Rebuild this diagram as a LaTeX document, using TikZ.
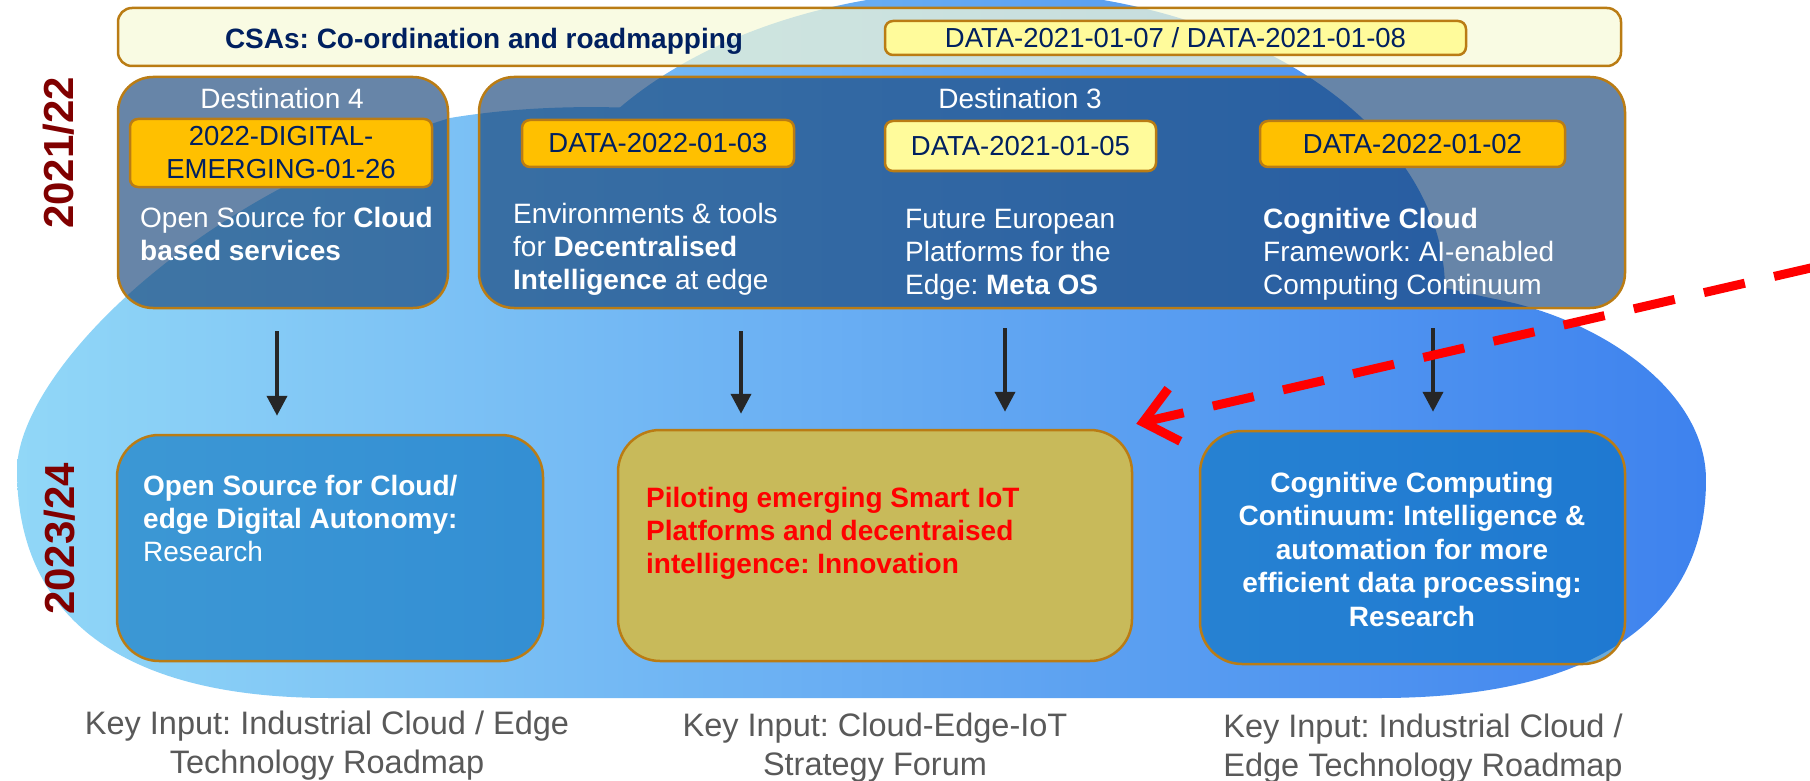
\documentclass[tikz,border=0pt]{standalone}
\usepackage{fontspec}
\setmainfont{Liberation Sans}
\usetikzlibrary{arrows.meta}
\frenchspacing

\definecolor{edgebrown}{RGB}{186,124,20}
\definecolor{navy}{RGB}{0,32,96}
\definecolor{codeorange}{RGB}{255,192,0}
\definecolor{codeyellow}{RGB}{255,251,155}
\definecolor{csafill}{RGB}{247,250,215}
\definecolor{topblue}{RGB}{22,68,121}
\definecolor{lowblue}{RGB}{7,113,190}
\definecolor{olive}{RGB}{200,186,90}
\definecolor{darkred}{RGB}{128,0,0}
\definecolor{keygray}{RGB}{89,89,89}
\definecolor{arrowgray}{RGB}{38,38,38}
\definecolor{bgleft}{RGB}{145,215,247}
\definecolor{bgmid}{RGB}{104,173,243}
\definecolor{bgright}{RGB}{62,130,238}

\newcommand{\fsz}[2]{\fontsize{#1}{#2}\selectfont}

\begin{document}
\begin{tikzpicture}[x=1pt, y=-1pt,
    bgfill/.style={path picture={\shade[left color=bgleft, middle color=bgmid, right color=bgright] (17,-20) rectangle (1706,781);}},
    boxedge/.style={draw=edgebrown, line width=2.5pt, inner sep=0pt},
    csabar/.style={boxedge, rounded corners=14pt, fill=csafill, fill opacity=0.7},
    topbox/.style={boxedge, rounded corners=35pt, fill=topblue, fill opacity=0.65},
    lowbox/.style={boxedge, rounded corners=42pt},
    codebox/.style={boxedge, rounded corners=8pt, fill=codeorange, text=navy, align=center, font=\fsz{27.5}{33}},
    boxtext/.style={text=white, align=left, anchor=west, inner sep=0pt, font=\fsz{28}{33}},
    keyin/.style={text=keygray, align=center, inner sep=0pt, font=\fsz{32.5}{39}},
    yearlbl/.style={text=darkred, rotate=90, inner sep=0pt, font=\fsz{42}{50}\bfseries},
    arr/.style={-{Triangle[length=20pt,width=20pt]}, line width=4pt, draw=arrowgray},
    redarr/.style={-{Straight Barb[length=32pt,width=54pt]}, line width=9pt, draw=red, dash pattern=on 42pt off 30pt}]
  \useasboundingbox (0,0) rectangle (1810,781);

  % background cloud
  \path[bgfill] (17,470) .. controls (17,380) and (180,200) .. (450,118)
    .. controls (800,60) and (1250,250) .. (1500,300)
    .. controls (1600,320) and (1706,390) .. (1706,480)
    .. controls (1706,600) and (1620,698) .. (1380,698)
    -- (330,698) .. controls (100,698) and (17,600) .. (17,470) -- cycle;
  \path[bgfill] (985,290) ellipse [x radius=460, y radius=300];

  % years
  \node[yearlbl] (6) at (59,153) {2021/22};
  \node[yearlbl] (7) at (60,539) {2023/24};

  % CSAs
  \node[csabar, minimum width=1503pt, minimum height=58pt] (0) at (869.5,37) {};
  \node[font=\fsz{28}{33}\bfseries, text=navy, inner sep=0pt] (01) at (484,41) {CSAs: Co-ordination and roadmapping};
  \node[codebox, fill=codeyellow, minimum width=581pt, minimum height=34pt] (02) at (1175.5,38) {DATA-2021-01-07 / DATA-2021-01-08};

  % 2021/22
  \node[topbox, minimum width=330pt, minimum height=231pt] (1) at (283,192.5) {};
  \node[boxtext, anchor=center] (11) at (282,98) {Destination 4};
  \node[codebox, minimum width=302pt, minimum height=68pt] (12) at (281,153) {2022-DIGITAL-\\EMERGING-01-26};
  \node[boxtext] (13) at (140,233.5) {Open Source for \textbf{Cloud}\\\textbf{based services}};

  \node[topbox, minimum width=1146pt, minimum height=231pt] (2) at (1052,192.5) {};
  \node[boxtext, anchor=center] (21) at (1020,98) {Destination 3};
  \node[codebox, minimum width=272pt, minimum height=47pt] (22) at (658,143.5) {DATA-2022-01-03};
  \node[codebox, fill=codeyellow, minimum width=271pt, minimum height=50pt] (23) at (1020.5,146) {DATA-2021-01-05};
  \node[codebox, minimum width=305pt, minimum height=46pt] (24) at (1412.5,144) {DATA-2022-01-02};
  \node[boxtext] (25) at (513,249) {Environments \& tools\\for \textbf{Decentralised}\\\textbf{Intelligence} at edge};
  \node[boxtext] (26) at (905,255) {Future European\\Platforms for the\\Edge: \textbf{Meta OS}};
  \node[boxtext] (27) at (1263,254.5) {\textbf{Cognitive Cloud}\\Framework: AI-enabled\\Computing Continuum};

  % 2023/24
  \node[lowbox, fill=lowblue, fill opacity=0.6, minimum width=426pt, minimum height=226pt] (3) at (330,548) {};
  \node[lowbox, fill=olive, minimum width=514pt, minimum height=231pt] (4) at (875,545.5) {};
  \node[lowbox, fill=lowblue, fill opacity=0.6, minimum width=425pt, minimum height=233pt] (5) at (1412.5,547.5) {};
  \node[boxtext] (31) at (143,518.5) {\textbf{Open Source for Cloud/}\\\textbf{edge Digital Autonomy:}\\Research};
  \node[boxtext, text=red, font=\fsz{28}{33}\bfseries] (41) at (646,533) {Piloting emerging Smart IoT\\Platforms and decentraised\\intelligence: Innovation};
  \node[boxtext, anchor=center, align=center, font=\fsz{28}{33.5}\bfseries] (51) at (1412,549) {Cognitive Computing\\Continuum: Intelligence \&\\automation for more\\efficient data processing:\\Research};

  \node[keyin] (32) at (327,746) {Key Input: Industrial Cloud / Edge\\Technology Roadmap};
  \node[keyin] (42) at (875,747.5) {Key Input: Cloud-Edge-IoT\\Strategy Forum};
  \node[keyin] (52) at (1423,749) {Key Input: Industrial Cloud /\\Edge Technology Roadmap};

  \draw[arr] ([shift={(-6,22)}]1.south) -- ([shift={(-53,-18)}]3.north);
  \draw[arr] ([shift={(-311,22)}]2.south) -- ([shift={(-134,-15)}]4.north);
  \draw[arr] ([shift={(-47,19)}]2.south) -- ([shift={(130,-17)}]4.north);
  \draw[arr] ([shift={(381,19)}]2.south) -- ([shift={(20.5,-18)}]5.north);

  \coordinate (r) at (1815,267);
  \draw[redarr] (r) -- ([shift={(3,-5)}]4.north east);
\end{tikzpicture}
\end{document}
